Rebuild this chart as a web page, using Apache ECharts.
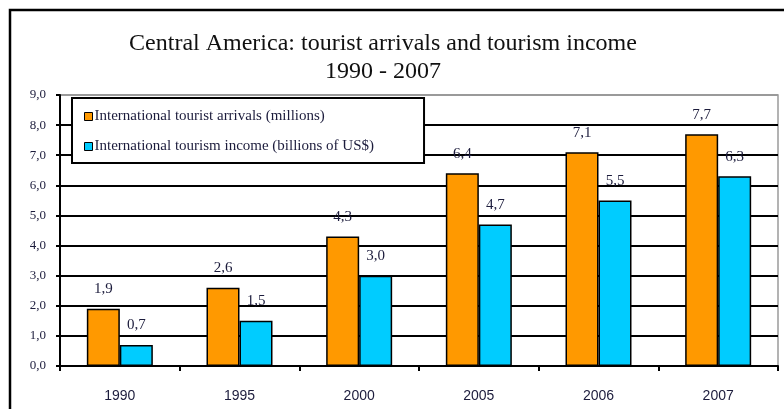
<!DOCTYPE html>
<html>
<head>
<meta charset="utf-8">
<script src="https://cdn.jsdelivr.net/npm/echarts@6/dist/echarts.min.js"></script>
<style>
  html, body { margin: 0; padding: 0; background: #fff; }
  #chart { width: 784px; height: 409px; }
</style>
</head>
<body>
<div id="chart"></div>
<script>
// Central America: tourist arrivals / tourism income, 1990 - 2007
const years = ['1990', '1995', '2000', '2005', '2006', '2007']
const arrivals = [1.9, 2.6, 4.3, 6.4, 7.1, 7.7] // millions
const income = [0.7, 1.5, 3.0, 4.7, 5.5, 6.3] // billions of US$
const seriesNames = ['International tourist arrivals (millions)', 'International tourism income (billions of US$)']

const textColor = '#1c1c3c'
// comma as decimal separator
const fmt = v => v.toFixed(1).replace('.', ',')

const chart = echarts.init(document.getElementById('chart'))

const barSeries = (name, data, color) => ({
  name: name,
  type: 'bar',
  data: data,
  barWidth: 33,
  barGap: '0%',
  itemStyle: {
    color: color,
    borderColor: '#000',
    borderWidth: 1.5
  },
  label: {
    show: true,
    position: 'top',
    distance: 12,
    color: textColor,
    fontFamily: 'Liberation Serif',
    fontSize: 15,
    formatter: p => fmt(p.value)
  }
})

const option = {
  backgroundColor: '#fff',
  animation: false,
  graphic: [
    {
      type: 'rect',
      shape: { x: 10, y: 10, width: 800, height: 420 },
      style: { fill: 'none', stroke: '#000', lineWidth: 2.5 },
      z: 100
    },
    {
      type: 'text',
      x: 383,
      y: 30,
      style: {
        text: 'Central America: tourist arrivals and tourism income\n1990 - 2007',
        textAlign: 'center',
        fontFamily: 'Liberation Serif',
        fontSize: 24,
        lineHeight: 28,
        fill: '#111'
      }
    }
  ],
  legend: {
    orient: 'vertical',
    left: 72,
    top: 98,
    backgroundColor: '#fff',
    borderColor: '#000',
    borderWidth: 2,
    padding: [11, 50, 9, 12],
    itemGap: 15,
    itemWidth: 8,
    itemHeight: 8,
    icon: 'rect',
    itemStyle: { borderColor: '#000', borderWidth: 1 },
    textStyle: {
      fontFamily: 'Liberation Serif',
      fontSize: 15,
      color: textColor,
      padding: [0, 0, 0, -3]
    },
    data: seriesNames,
    z: 10
  },
  grid: {
    left: 60,
    right: 6,
    top: 95,
    bottom: 43,
    show: true,
    borderColor: '#9a9a9a',
    borderWidth: 1.5
  },
  xAxis: {
    type: 'category',
    data: years,
    axisLine: { lineStyle: { color: '#000', width: 2 } },
    axisTick: { show: true, length: 5, lineStyle: { color: '#000', width: 2 } },
    axisLabel: {
      margin: 23,
      fontFamily: 'Liberation Sans',
      fontSize: 14,
      color: textColor
    }
  },
  yAxis: {
    type: 'value',
    min: 0,
    max: 9,
    interval: 1,
    axisLine: { show: true, lineStyle: { color: '#000', width: 2 } },
    axisTick: { show: true, length: 4, lineStyle: { color: '#000', width: 2 } },
    axisLabel: {
      margin: 14,
      fontFamily: 'Liberation Serif',
      fontSize: 13,
      color: textColor,
      formatter: v => fmt(v)
    },
    splitLine: {
      lineStyle: {
        color: ['#000', '#000', '#000', '#000', '#000', '#000', '#000', '#000', '#000', '#9a9a9a'],
        width: 2
      }
    }
  },
  series: [
    barSeries(seriesNames[0], arrivals, '#ff9900'),
    barSeries(seriesNames[1], income, '#00ccff')
  ]
}

chart.setOption(option)
</script>
</body>
</html>
